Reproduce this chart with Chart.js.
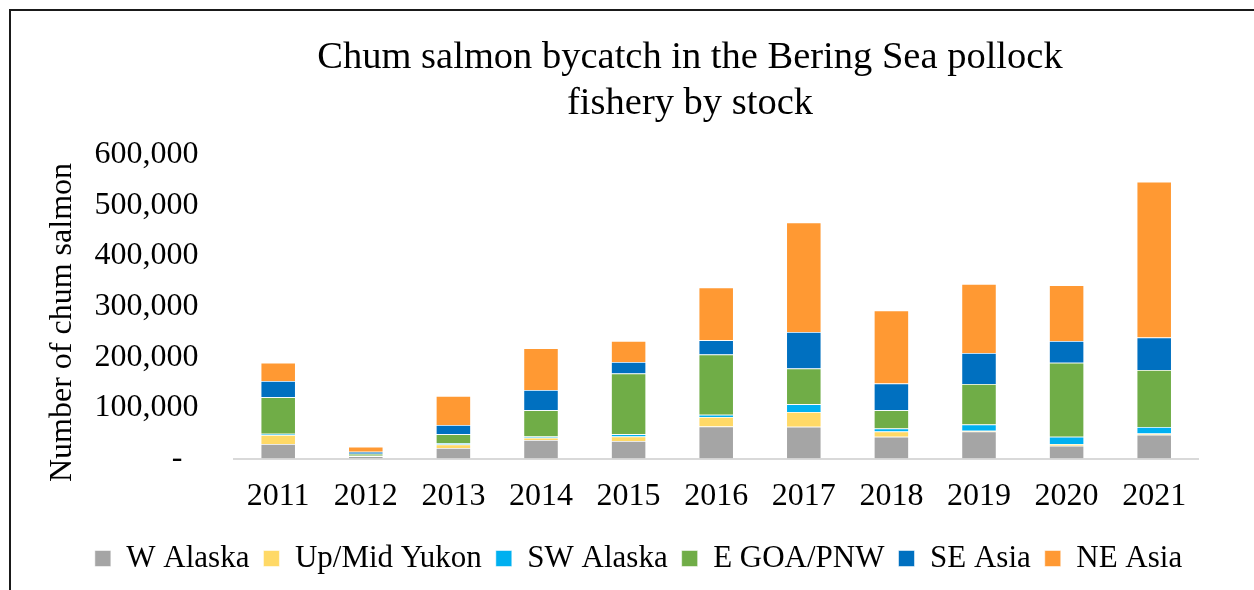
<!DOCTYPE html>
<html>
<head>
<meta charset="utf-8">
<script src="https://cdn.jsdelivr.net/npm/chart.js@4.4.0/dist/chart.umd.min.js"></script>
<style>
    html, body { margin: 0; padding: 0; background: #fff; overflow: hidden; }
    #frame {
        position: absolute; left: 9px; top: 9px;
        width: 1400px; height: 700px;
        border: 2px solid #1a1a1a;
    }
    #wrap { position: absolute; left: 0; top: 0; width: 1254px; height: 590px; }
</style>
</head>
<body>
<div id="frame"></div>
<div id="wrap"><canvas id="chart"></canvas></div>
<script>
// data
const years = ["2011", "2012", "2013", "2014", "2015", "2016", "2017", "2018", "2019", "2020", "2021"];
const wAlaska = [29000, 4500, 21000, 36500, 34500, 63500, 63000, 43000, 53500, 25500, 47000];
const upMidYukon = [17500, 500, 7000, 4500, 9000, 18500, 29000, 10500, 1500, 3500, 2500];
const swAlaska = [2500, 500, 2500, 2500, 4500, 4500, 15000, 6000, 12500, 14000, 13000];
const eGoaPnw = [72000, 4000, 17500, 52000, 120000, 119000, 70500, 36000, 79500, 146000, 112500];
const seAsia = [32000, 3800, 18500, 40000, 22500, 28000, 72000, 52500, 61500, 43000, 64000];
const neAsia = [36000, 10000, 57000, 82000, 41500, 104000, 216000, 144000, 136000, 110000, 307000];

const yMax = 600000;
const yStep = 100000;

const seriesNames = ["W Alaska", "Up/Mid Yukon", "SW Alaska", "E GOA/PNW", "SE Asia", "NE Asia"];
const seriesValues = [wAlaska, upMidYukon, swAlaska, eGoaPnw, seAsia, neAsia];
const seriesColors = ["#A5A5A5", "#FFD966", "#00B0F0", "#70AD47", "#0070C0", "#FF9933"];

const serif = "'Liberation Serif', 'Times New Roman', serif";

// nudge title and legend so they sit where the original ones do
const boxShift = {
    id: "boxShift",
    afterLayout(chart) {
        const tb = chart.titleBlock;
        if (tb) {
            const half = (tb.right - tb.left) / 2;
            tb.left = 690 - half;
            tb.right = 690 + half;
        }
        const lg = chart.legend;
        if (lg) {
            lg.left += 18;
            lg.right += 18;
            lg.top -= 6;
            lg.bottom -= 6;
        }
    },
};

new Chart(document.getElementById("chart"), {
    type: "bar",
    data: {
        labels: years,
        datasets: seriesNames.map((name, i) => ({
            label: name,
            data: seriesValues[i],
            backgroundColor: seriesColors[i],
            borderColor: "rgba(255,255,255,0.7)",
            borderWidth: 0.75,
            categoryPercentage: 1,
            barPercentage: 0.4,
        })),
    },
    options: {
        responsive: true,
        maintainAspectRatio: false,
        animation: false,
        layout: { padding: { left: 43, right: 56, top: 0, bottom: 0 } },
        plugins: {
            title: {
                display: true,
                text: ["Chum salmon bycatch in the Bering Sea pollock", "fishery by stock"],
                color: "#000",
                font: { family: serif, size: 38.5, weight: "normal", lineHeight: 1.2 },
                padding: { top: 35, bottom: 27 },
            },
            legend: {
                position: "bottom",
                labels: {
                    color: "#000",
                    font: { family: serif, size: 31 },
                    boxWidth: 16,
                    boxHeight: 16,
                    padding: 14,
                },
            },
            tooltip: { enabled: false },
        },
        scales: {
            x: {
                stacked: true,
                grid: { display: false, drawTicks: false },
                border: { display: true, color: "#D9D9D9", width: 2 },
                ticks: { color: "#000", font: { family: serif, size: 32 }, padding: 19, maxRotation: 0 },
            },
            y: {
                stacked: true,
                min: 0,
                max: yMax,
                grid: { display: false, drawTicks: false },
                border: { display: false },
                ticks: {
                    stepSize: yStep,
                    color: "#000",
                    font: { family: serif, size: 32 },
                    padding: 36,
                    callback: (v) => (v === 0 ? "-  " : v.toLocaleString("en-US")),
                },
                title: {
                    display: true,
                    text: "Number of chum salmon    ",
                    color: "#000",
                    font: { family: serif, size: 32 },
                    padding: { top: 0, bottom: -23 },
                },
            },
        },
    },
    plugins: [boxShift],
});
</script>
</body>
</html>
